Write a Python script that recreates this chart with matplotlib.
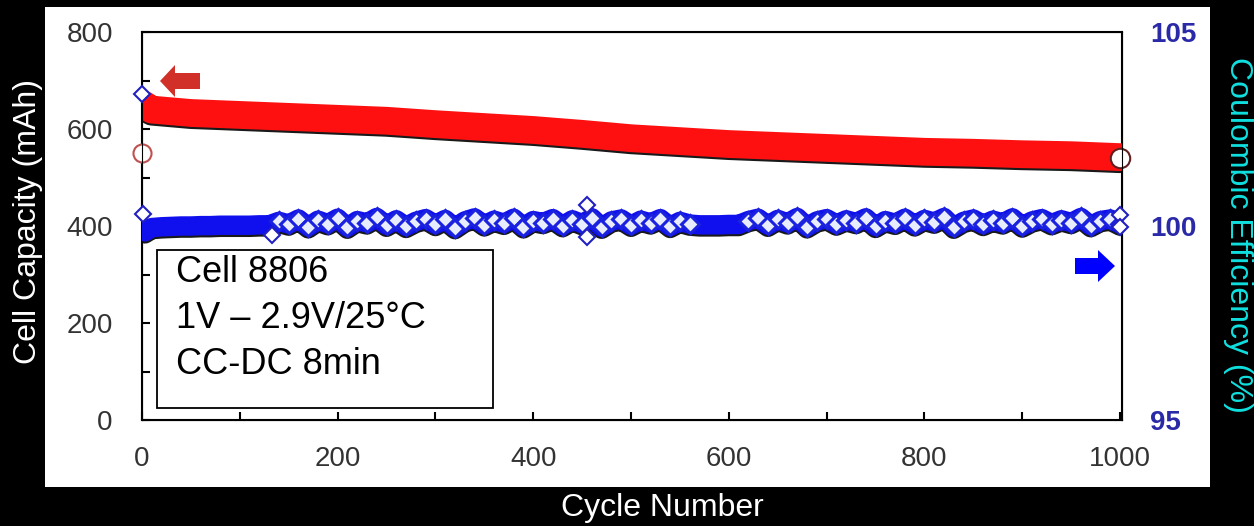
import matplotlib
matplotlib.use('Agg')
import matplotlib.pyplot as plt
import matplotlib.patheffects as pe
from matplotlib.patches import Rectangle, Polygon

plt.rcParams['font.family'] = ['Liberation Sans', 'DejaVu Sans']

W, H = 1254, 526

# capacity (mAh)
cap_cycles = [2, 10, 50, 100, 150, 200, 250, 300, 350, 400, 450, 500,
              550, 600, 650, 700, 750, 800, 850, 900, 950, 1000]
cap_values = [650, 640, 633, 629, 625, 621, 617, 610, 604, 598, 590, 581,
              575, 569, 565, 561, 557, 553, 551, 548, 546, 542]
cap_first = [0, 550]
cap_last = [1000, 540]

# coulombic efficiency (%), cycle 3 then every 10 cycles
ce_cycles = [3] + list(range(10, 1001, 10))
ce_values = [99.85,
             99.96, 99.98, 99.99, 100.00, 100.00, 100.01, 100.01, 100.02, 100.02, 100.02,
             100.02, 100.03, 100.03, 100.12, 100.05, 100.18, 99.98, 100.15, 100.06, 100.20,
             99.97, 100.14, 100.08, 100.22, 100.02, 100.16, 99.99, 100.12, 100.19, 100.04,
             100.17, 99.96, 100.13, 100.21, 100.03, 100.15, 100.07, 100.20, 99.98, 100.14,
             100.09, 100.19, 100.01, 100.16, 100.06, 100.21, 99.97, 100.13, 100.18, 100.02,
             100.15, 100.08, 100.19, 99.99, 100.12, 100.05, 100.03, 100.03, 100.03, 100.04,
             100.04, 100.14, 100.20, 100.02, 100.17, 100.08, 100.22, 99.98, 100.13, 100.19,
             100.05, 100.16, 100.09, 100.21, 99.99, 100.14, 100.07, 100.20, 100.03, 100.17,
             100.10, 100.22, 99.97, 100.12, 100.18, 100.04, 100.15, 100.08, 100.21, 100.00,
             100.13, 100.19, 100.06, 100.16, 100.09, 100.22, 100.01, 100.14, 100.18, 100.05]
ce_hatched = [(135, 565), (615, 1000)]
ce_out_cycles = [0, 1, 133, 455, 455, 1000, 1000]
ce_out_values = [103.4, 100.3, 99.77, 100.54, 99.72, 100.28, 99.97]

x_ticks = [0, 200, 400, 600, 800, 1000]
cap_ticks = [0, 200, 400, 600, 800]
ce_ticks = [95, 100, 105]
box_lines = ['Cell 8806', '1V \u2013 2.9V/25\u00b0C', 'CC-DC 8min']


def fx(x):
    return x / W


def fy(y):
    return 1 - y / H


fig = plt.figure(figsize=(W / 100, H / 100), dpi=100, facecolor='black')

# white panel behind the chart
fig.patches.append(Rectangle((fx(45), fy(487)), fx(1210) - fx(45), fy(7) - fy(487),
                             transform=fig.transFigure, facecolor='white',
                             edgecolor='none', zorder=-5))

ax = fig.add_axes([fx(142), fy(420), fx(1122) - fx(142), fy(32) - fy(420)])
ax.set_facecolor('white')
ax.set_xlim(0, 1002)
ax.set_ylim(0, 800)

shadow = [pe.SimpleLineShadow(offset=(0, -1.5), shadow_color='black', alpha=0.9), pe.Normal()]
ax.plot(cap_cycles, cap_values, color='#ff1010', lw=20, solid_capstyle='round',
        path_effects=shadow, zorder=3)
ax.plot(cap_first[0], cap_first[1], 'o', ms=13, mfc='white', mec='#c05050', mew=1.5,
        clip_on=False, zorder=4)
ax.plot(cap_last[0], cap_last[1], 'o', ms=14, mfc='white', mec='#602020', mew=1.5,
        clip_on=False, zorder=4)

ax.set_xticks(x_ticks)
ax.set_xticks(range(0, 1001, 100), minor=True)
ax.set_yticks(cap_ticks)
ax.set_yticks(range(0, 801, 100), minor=True)
ax.tick_params(axis='both', which='both', direction='in', length=6, width=1.5,
               labelsize=20, labelcolor='#333333', color='black')
ax.tick_params(axis='y', pad=21)
ax.tick_params(axis='x', pad=19)
for s in ax.spines.values():
    s.set_linewidth(1.5)

# info box
ax.add_patch(Rectangle((fx(157), fy(408)), fx(493) - fx(157), fy(250) - fy(408),
                       transform=fig.transFigure, facecolor='white', edgecolor='black',
                       lw=1.3, zorder=5))
for i, line in enumerate(box_lines):
    fig.text(fx(176), fy(272 + 46 * i), line, fontsize=26, color='black',
             va='center', ha='left', zorder=6)

ax2 = ax.twinx()
ax2.set_ylim(95, 105)
ax2.set_xlim(0, 1002)
ax2.plot(ce_cycles, ce_values, color='#1010ee', lw=14, solid_capstyle='round',
         path_effects=shadow, zorder=3)
for lo, hi in ce_hatched:
    xs = [c for c in ce_cycles if lo <= c <= hi]
    ys = [v for c, v in zip(ce_cycles, ce_values) if lo <= c <= hi]
    ax2.plot(xs, ys, 'D', ms=9, mfc='#e8ecff', mec='#1a22e0', mew=2.2, ls='none', zorder=4)
ax2.plot(ce_out_cycles, ce_out_values, 'D', ms=8, mfc='white', mec='#2020c0', mew=1.5,
         ls='none', clip_on=False, zorder=5)
ax2.set_yticks(ce_ticks)
ax2.tick_params(axis='y', length=0, pad=20, labelsize=20, labelcolor='#2a2aa8')
for t in ax2.get_yticklabels():
    t.set_fontweight('bold')

# axis titles on the black margin
fig.text(fx(28), fy(222), 'Cell Capacity (mAh)', rotation=90, fontsize=23, color='white',
         ha='center', va='center')
fig.text(fx(1238), fy(235), 'Coulombic Efficiency (%)', rotation=270, fontsize=23,
         color='#10e0e0', ha='center', va='center')
fig.text(fx(662), fy(508), 'Cycle Number', fontsize=23, color='white',
         ha='center', va='center')

# arrows
red_arrow = [(160, 81), (175, 65), (175, 73), (200, 73), (200, 89), (175, 89), (175, 97)]
blue_arrow = [(1115, 266), (1098, 250), (1098, 258), (1075, 258), (1075, 274), (1098, 274), (1098, 282)]
fig.patches.append(Polygon([(fx(x), fy(y)) for x, y in red_arrow], closed=True,
                           transform=fig.transFigure, facecolor='#d03028', edgecolor='none',
                           zorder=10))
fig.patches.append(Polygon([(fx(x), fy(y)) for x, y in blue_arrow], closed=True,
                           transform=fig.transFigure, facecolor='#0000ff', edgecolor='none',
                           zorder=10))

fig.savefig('out.png', dpi=100, facecolor='black')
